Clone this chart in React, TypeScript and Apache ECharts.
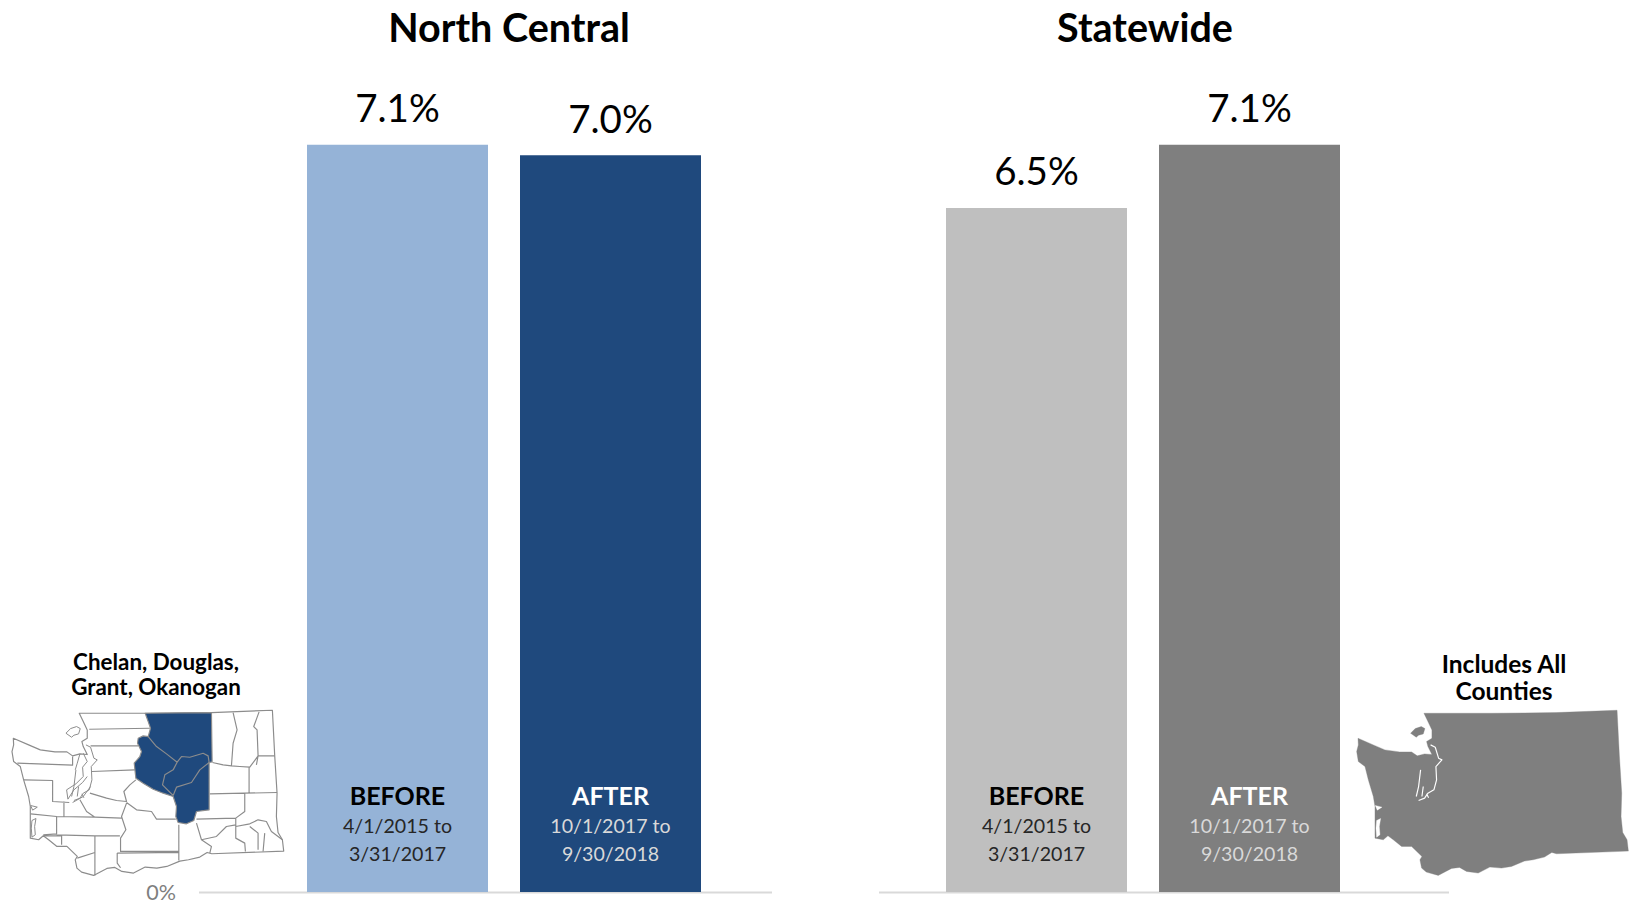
import React, { useEffect, useRef } from "react";
import * as echarts from "echarts";

// Rate of patients, before and after the policy change
const beforeAfterLabels = ["BEFORE", "AFTER"];
const periodStart = ["4/1/2015 to", "10/1/2017 to"];
const periodEnd = ["3/31/2017", "9/30/2018"];
const northCentralValues = [7.1, 7.0];
const statewideValues = [6.5, 7.1];
const northCentralColors = ["#95B3D7", "#1F497D"];
const statewideColors = ["#BFBFBF", "#7F7F7F"];
const labelStyles = ["dark", "light", "dark", "light"];

// Washington state, drawn in a local coordinate space three times the screen size
const STATE =
  "M238 250 L440 250 L635 248 L818 241 L825 378 L832 490 L830 560 L835 608 L848 630 L852 664 L636 672 L622 668 L600 682 L566 690 L540 694 L501 710 L471 715 L436 712 L401 730 L366 725 L345 713 L321 716 L281 737 L245 727 L231 715 L226 690 L232 680 L201 650 L171 650 L146 630 L130 618 L116 630 L91 625 L91 530 L86 500 L71 450 L61 410 L41 395 L36 365 L41 345 L40 325 L86 345 L121 360 L165 366 L201 366 L218 378 L240 372 L262 374 L250 350 L246 335 L262 325 L262 300 L250 275 Z";
const ISLANDS =
  "M198 310 L212 296 L230 290 L241 296 L236 312 L222 316 L215 322 Z";
const INLETS =
  "M92 527 L112 532 L98 541 Z M96 572 L108 566 L104 590 L106 615 L96 622 L94 595 Z";
const SOUND =
  "M258 345 L272 352 L282 385 L292 390 L274 410 L276 450 L268 480 L250 490 L240 505 L222 512 M228 420 L222 470 L215 500 M236 470 L232 500 M246 492 L252 504";
const SOUND_SHORES =
  "M250 370 L262 395 L248 412 L250 440 L228 462 L200 480 L204 508 L222 480 L248 458 L262 440 M240 372 L232 400 L226 420 M272 470 L250 500 L218 518";
const WEST_AND_EAST_COUNTIES =
  "M268 298 L450 295 M272 348 L415 348 M276 425 L405 420 M270 490 L320 505 L350 512 L380 515 L372 485 L390 465 L408 450 M380 518 L410 540 L455 545 L470 568 L528 568 M380 520 L365 560 L378 600 L362 625 L362 665 L537 665 M537 585 L537 692 M170 560 L285 562 L365 565 M192 515 L192 560 M240 510 L260 545 L285 562 M72 450 L158 452 L158 515 L208 518 M92 552 L170 560 L170 612 L130 615 M130 618 L185 618 L185 645 M170 615 L285 618 L360 618 M285 618 L285 737 M232 685 L285 668 M352 670 L537 668 M352 670 L352 700 L362 714 M52 400 L218 406 L218 380 M700 248 L712 300 L700 340 L695 408 M778 246 L762 290 L772 300 L775 378 L770 405 M638 398 L670 405 L695 408 L720 410 L750 412 L775 378 L825 378 M748 410 L748 490 M630 492 L832 488 M735 490 L735 545 L708 565 L590 568 M708 565 L708 625 L735 640 L737 665 M590 580 L605 630 L635 650 L630 670 M605 630 L650 620 L680 590 L708 585 M708 590 L750 582 L775 570 L800 575 L815 605 L848 630 M750 590 L775 610 L775 660 M795 610 L790 665";
const NORTH_CENTRAL =
  "M436 250 L635 248 L637 396 L628 398 L628 540 L590 545 L582 572 L560 582 L535 578 L528 560 L530 530 L520 500 L490 490 L460 478 L430 460 L408 445 L403 400 L420 380 L425 365 L413 340 L415 325 L430 318 L445 320 L452 295 L445 275 Z";
const NORTH_CENTRAL_SPLITS =
  "M445 320 L470 350 L500 372 L532 397 L545 380 L570 382 L610 370 L625 378 L628 398 L600 420 L575 458 L530 472 L520 497 M532 397 L520 420 L495 435 L488 465 L520 497";

const registerPath = (name: string, d: string) =>
  echarts.graphic.registerShape(name, echarts.graphic.extendPath(d, {}));
registerPath("waState", STATE);
registerPath("waIslands", ISLANDS);
registerPath("waInlets", INLETS);
registerPath("waSound", SOUND);
registerPath("waShores", SOUND_SHORES);
registerPath("waCounties", WEST_AND_EAST_COUNTIES);
registerPath("waNorthCentral", NORTH_CENTRAL);
registerPath("waSplits", NORTH_CENTRAL_SPLITS);

const FONT = "Lato";
const LINE = "#8C8C8C";
const BASE_Y = 892.5;

const mapPart = (type: string, x: number, style: object) => ({
  type,
  x,
  y: 630,
  scaleX: 1 / 3,
  scaleY: 1 / 3,
  silent: true,
  style,
});

const caption = (text: string, x: number, y: number, size: number, lineHeight: number) => ({
  type: "text",
  x,
  y,
  silent: true,
  style: {
    text,
    fill: "#000",
    font: `bold ${size}px ${FONT}`,
    lineHeight,
    align: "center",
    verticalAlign: "top",
  },
});

const baseline = (x1: number, x2: number) => ({
  type: "line",
  silent: true,
  shape: { x1, y1: BASE_Y, x2, y2: BASE_Y },
  style: { stroke: "#D9D9D9", lineWidth: 2 },
});

const xAxisFor = (gridIndex: number, offset: number) => ({
  type: "category",
  gridIndex,
  data: beforeAfterLabels,
  z: 6,
  axisLine: { show: false },
  axisTick: { show: false },
  axisLabel: {
    inside: true,
    interval: 0,
    margin: 25,
    formatter: (value: string, i: number) =>
      `{${labelStyles[i + offset]}Head|${value}}\n{${labelStyles[i + offset]}|${periodStart[i]}}\n{${labelStyles[i + offset]}|${periodEnd[i]}}`,
    rich: {
      darkHead: { fontFamily: FONT, fontWeight: "bold", fontSize: 25, lineHeight: 33, color: "#000" },
      lightHead: { fontFamily: FONT, fontWeight: "bold", fontSize: 25, lineHeight: 33, color: "#fff" },
      dark: { fontFamily: FONT, fontSize: 19.6, lineHeight: 28, color: "#262626" },
      light: { fontFamily: FONT, fontSize: 19.6, lineHeight: 28, color: "#D9D9D9" },
    },
  },
});

const seriesFor = (index: number, values: number[], colors: string[]) => ({
  type: "bar",
  xAxisIndex: index,
  yAxisIndex: index,
  barWidth: 181,
  data: values.map((value, i) => ({ value, itemStyle: { color: colors[i] } })),
  label: {
    show: true,
    position: "top",
    distance: 18,
    formatter: (p: { value: number }) => `${p.value.toFixed(1)}%`,
    fontFamily: FONT,
    fontSize: 38.5,
    color: "#000",
  },
});

const titleText = { fontFamily: FONT, fontWeight: "bold", fontSize: 39.5, color: "#000" };

export default function App() {
  const ref = useRef<HTMLDivElement>(null);

  useEffect(() => {
    const chart = echarts.init(ref.current, null, { renderer: "svg" });
    chart.setOption({
      animation: false,
      backgroundColor: "#fff",
      title: [
        { text: "North Central", left: 504, top: 1, textAlign: "center", textStyle: titleText },
        { text: "Statewide", left: 1140, top: 1, textAlign: "center", textStyle: titleText },
      ],
      grid: [
        { left: 291, width: 426, top: 50, height: 842 },
        { left: 930, width: 426, top: 50, height: 842 },
      ],
      xAxis: [xAxisFor(0, 0), xAxisFor(1, 2)],
      yAxis: [
        {
          type: "value",
          gridIndex: 0,
          min: 0,
          max: 8,
          axisLine: { show: false },
          axisTick: { show: false },
          splitLine: { show: false },
          axisLabel: {
            customValues: [0],
            margin: 115,
            formatter: "{value}%",
            fontFamily: FONT,
            fontSize: 21.5,
            color: "#7F7F7F",
          },
        },
        { type: "value", gridIndex: 1, min: 0, max: 8, show: false },
      ],
      series: [
        seriesFor(0, northCentralValues, northCentralColors),
        seriesFor(1, statewideValues, statewideColors),
      ],
      graphic: [
        baseline(199, 772),
        baseline(879, 1449),
        caption("Chelan, Douglas,\nGrant, Okanogan", 156, 649, 22.4, 25),
        caption("Includes All\nCounties", 1504, 650, 24.5, 27),
        mapPart("waState", 0, { fill: "#fff", stroke: LINE, lineWidth: 3.5, lineJoin: "round" }),
        mapPart("waIslands", 0, { fill: "#fff", stroke: LINE, lineWidth: 3 }),
        mapPart("waInlets", 0, { fill: "#fff", stroke: LINE, lineWidth: 3 }),
        mapPart("waSound", 0, { fill: "none", stroke: LINE, lineWidth: 3, lineJoin: "round" }),
        mapPart("waShores", 0, { fill: "none", stroke: LINE, lineWidth: 3, lineJoin: "round" }),
        mapPart("waCounties", 0, { fill: "none", stroke: LINE, lineWidth: 3.5, lineJoin: "round" }),
        mapPart("waNorthCentral", 0, { fill: "#1F497D", stroke: LINE, lineWidth: 3.5, lineJoin: "round" }),
        mapPart("waSplits", 0, { fill: "none", stroke: LINE, lineWidth: 3.5, lineJoin: "round" }),
        mapPart("waState", 1344.67, { fill: "#7F7F7F", stroke: "#7F7F7F", lineWidth: 1 }),
        mapPart("waIslands", 1344.67, { fill: "#7F7F7F", stroke: "#7F7F7F", lineWidth: 1 }),
        mapPart("waInlets", 1344.67, { fill: "#fff", stroke: "#fff", lineWidth: 1 }),
        mapPart("waSound", 1344.67, { fill: "none", stroke: "#fff", lineWidth: 3.5, lineJoin: "round" }),
      ],
    });
    return () => chart.dispose();
  }, []);

  return <div ref={ref} style={{ position: "absolute", left: 0, top: 0, width: 1633, height: 908 }} />;
}
